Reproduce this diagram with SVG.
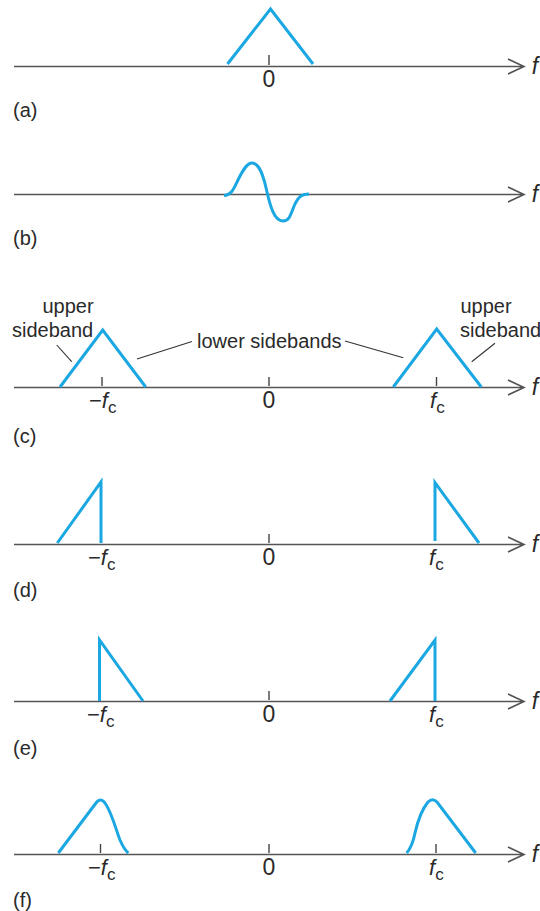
<svg xmlns="http://www.w3.org/2000/svg" width="540" height="911" viewBox="0 0 540 911">
<defs>
<style>
.ax{stroke:#555;stroke-width:1.6;fill:none}
.tk{stroke:#444;stroke-width:1.4}
.sig{stroke:#1aa7e2;stroke-width:3;fill:none;stroke-linejoin:miter;stroke-linecap:butt}
.ld{stroke:#333;stroke-width:1.1}
text{font-family:"Liberation Sans","DejaVu Sans",sans-serif;fill:#2a2a2a}
.lb{font-size:20px}
.nm{font-size:23px;text-anchor:middle}
.it{font-style:italic}
</style>
</defs>
<g id="panel-a">
<path class="ax" d="M14 66.5H524M508 59L524 66.5L508 74"/>
<line class="tk" x1="269" y1="55" x2="269" y2="65"/>
<path class="sig" d="M227.5 64L270.5 9L313 64"/>
<text class="nm" x="269" y="87">0</text>
<text class="nm it" x="535" y="74">f</text>
<text class="lb" x="13" y="117">(a)</text>
</g>
<g id="panel-b">
<path class="ax" d="M14 194.5H524M508 187L524 194.5L508 202"/>
<path class="sig" d="M224 195.5C232 195 234 188 238 180C243 170 247 163 252 163C260 163 264 178 267 192C270 205 274 221 283 221C290 221 291 213 295 204C299 196 302 194 309 194"/>
<text class="nm it" x="535" y="202">f</text>
<text class="lb" x="13" y="245">(b)</text>
</g>
<g id="panel-c">
<path class="ax" d="M14 387.5H524M508 380L524 387.5L508 395"/>
<line class="tk" x1="102" y1="377" x2="102" y2="386"/>
<line class="tk" x1="269" y1="377" x2="269" y2="386"/>
<line class="tk" x1="436.5" y1="377" x2="436.5" y2="386"/>
<path class="sig" d="M60 387L102.7 330L145.7 387"/>
<path class="sig" d="M393.3 387L436.7 329L481.3 387"/>
<line class="ld" x1="56.7" y1="345" x2="71.7" y2="361.7"/>
<line class="ld" x1="137" y1="359" x2="192" y2="341.5"/>
<line class="ld" x1="345" y1="341" x2="403.3" y2="357.7"/>
<line class="ld" x1="495" y1="343.3" x2="471.7" y2="361.7"/>
<text class="lb" x="68" y="313" text-anchor="middle">upper</text>
<text class="lb" x="12" y="337">sideband</text>
<text class="lb" x="197" y="348">lower sidebands</text>
<text class="lb" x="486" y="313" text-anchor="middle">upper</text>
<text class="lb" x="460" y="337">sideband</text>
<text class="nm" x="269" y="408">0</text>
<text style="font-size:22px" x="89" y="408">−<tspan class="it">f</tspan><tspan style="font-size:17px" dy="5">c</tspan></text>
<text style="font-size:22px" x="430" y="408"><tspan class="it">f</tspan><tspan style="font-size:17px" dy="5">c</tspan></text>
<text class="nm it" x="535" y="395">f</text>
<text class="lb" x="13" y="443">(c)</text>
</g>
<g id="panel-d">
<path class="ax" d="M14 544.5H524M508 537L524 544.5L508 552"/>
<line class="tk" x1="269" y1="534" x2="269" y2="543"/>
<path class="sig" d="M57.3 543L101 482V543"/>
<path class="sig" d="M435 541V482.7L479 543"/>
<text class="nm" x="269" y="565">0</text>
<text style="font-size:22px" x="88" y="565">−<tspan class="it">f</tspan><tspan style="font-size:17px" dy="5">c</tspan></text>
<text style="font-size:22px" x="429" y="565"><tspan class="it">f</tspan><tspan style="font-size:17px" dy="5">c</tspan></text>
<text class="nm it" x="535" y="552">f</text>
<text class="lb" x="13" y="597">(d)</text>
</g>
<g id="panel-e">
<path class="ax" d="M14 701.5H524M508 694L524 701.5L508 709"/>
<line class="tk" x1="269" y1="691" x2="269" y2="700"/>
<path class="sig" d="M99.5 701V640L143 701"/>
<path class="sig" d="M390 701L435 640V701"/>
<text class="nm" x="269" y="722">0</text>
<text style="font-size:22px" x="87" y="722">−<tspan class="it">f</tspan><tspan style="font-size:17px" dy="5">c</tspan></text>
<text style="font-size:22px" x="429" y="722"><tspan class="it">f</tspan><tspan style="font-size:17px" dy="5">c</tspan></text>
<text class="nm it" x="535" y="709">f</text>
<text class="lb" x="13" y="755">(e)</text>
</g>
<g id="panel-f">
<path class="ax" d="M14 854.5H524M508 847L524 854.5L508 862"/>
<line class="tk" x1="100.5" y1="844" x2="100.5" y2="853"/>
<line class="tk" x1="269" y1="844" x2="269" y2="853"/>
<line class="tk" x1="436" y1="844" x2="436" y2="853"/>
<path class="sig" d="M58.3 853L96 803C99 799 102 799 105 803C112 813 116 830 120 840C123 847 126 851 128.3 853"/>
<path class="sig" d="M406.7 853C411 848 413 843 415 833C418 820 423 808 428 802C431 799 434 799 437 802L475.7 853"/>
<text class="nm" x="269" y="875">0</text>
<text style="font-size:22px" x="88" y="875">−<tspan class="it">f</tspan><tspan style="font-size:17px" dy="5">c</tspan></text>
<text style="font-size:22px" x="429" y="875"><tspan class="it">f</tspan><tspan style="font-size:17px" dy="5">c</tspan></text>
<text class="nm it" x="535" y="862">f</text>
<text class="lb" x="13" y="907">(f)</text>
</g>
</svg>
